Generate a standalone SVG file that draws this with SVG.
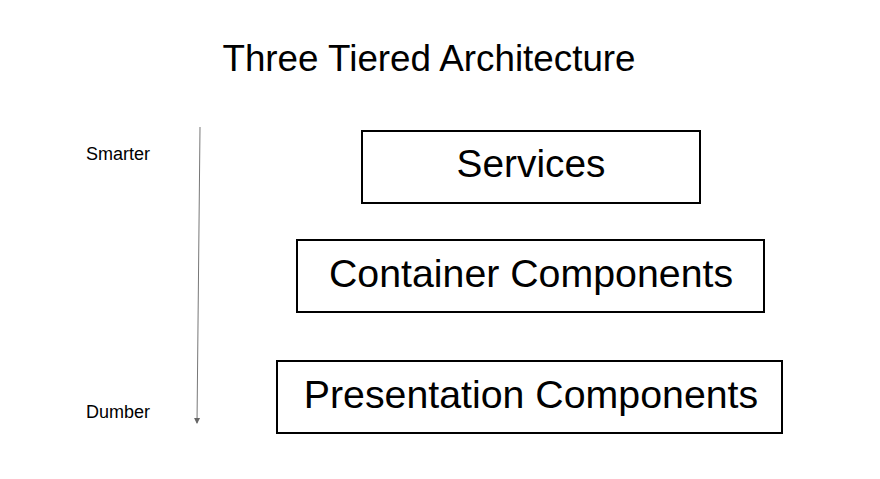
<svg xmlns="http://www.w3.org/2000/svg" width="880" height="479" viewBox="0 0 880 479">
<style>
.box{fill:#fff;stroke:#000;stroke-width:2}
.lbl{font-family:"Liberation Sans",Arial,sans-serif;fill:#000;text-anchor:middle}
.side{font-family:"Liberation Sans",Arial,sans-serif;fill:#000;font-size:18px}
</style>
<defs>
<marker id="ah" markerWidth="8" markerHeight="8" refX="6" refY="4" orient="auto" markerUnits="userSpaceOnUse">
<path d="M1,1 L7,4 L1,7 Z" fill="#666"/>
</marker>
</defs>
<rect width="880" height="479" fill="#fff"/>
<text class="lbl" x="429" y="71" font-size="36.8">Three Tiered Architecture</text>
<g id="connectors">
<line x1="200" y1="127" x2="197" y2="423" stroke="#777" stroke-width="1" marker-end="url(#ah)"/>
</g>
<text class="side" x="86" y="160">Smarter</text>
<text class="side" x="86" y="418">Dumber</text>
<g id="services">
<rect class="box" x="362" y="131" width="338" height="72"/>
<text class="lbl" x="531" y="177" font-size="38.8">Services</text>
</g>
<g id="container">
<rect class="box" x="297" y="240" width="467" height="72"/>
<text class="lbl" x="531" y="287" font-size="39.3">Container Components</text>
</g>
<g id="presentation">
<rect class="box" x="277" y="361" width="505" height="72"/>
<text class="lbl" x="531" y="408" font-size="39.3">Presentation Components</text>
</g>
</svg>
